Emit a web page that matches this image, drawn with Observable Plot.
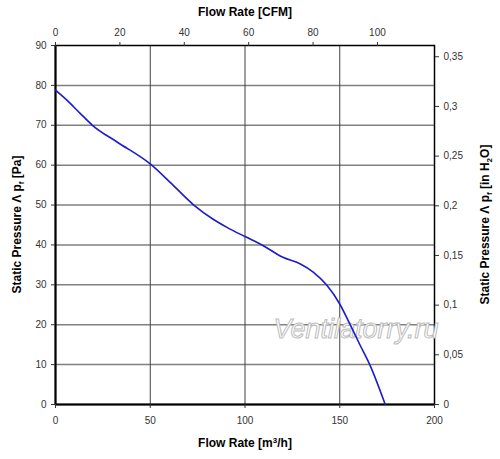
<!DOCTYPE html>
<html><head><meta charset="utf-8">
<script src="https://cdn.jsdelivr.net/npm/d3@7"></script>
<script src="https://cdn.jsdelivr.net/npm/@observablehq/plot@0.6"></script>
<style>body{margin:0;background:#fff}</style>
</head><body><div id="chart"></div>
<script>
// Fan curve values
const flowM3h   = [0, 6, 13, 19.5, 32.5, 50, 60.5, 73, 83, 90.5, 100, 109, 120, 129, 136, 143, 150, 155.5, 160.5, 166, 174];
const pressurePa = [78.8, 76.3, 73, 70, 65.8, 60.3, 55.7, 50, 46.5, 44.4, 42.1, 40, 36.9, 35.3, 33.2, 30, 25.2, 20, 15.1, 9.8, 0];

const xTicks = [0, 50, 100, 150, 200];
const yTicks = [0, 10, 20, 30, 40, 50, 60, 70, 80, 90];
const cfmTicks = [0, 20, 40, 60, 80, 100];
const inH2OTicks = [0, 0.05, 0.1, 0.15, 0.2, 0.25, 0.3, 0.35];
const gridY = [10, 20, 30, 40, 50, 60, 70, 80];
const gridX = [50, 100, 150];

const M3H_PER_CFM = 1.69901;
const PA_PER_INH2O = 249.089;

const data = flowM3h.map((f, i) => ({flow: f, p: pressurePa[i]}));

const plot = Plot.plot({
  width: 500,
  height: 459,
  marginLeft: 55,
  marginRight: 66,
  marginTop: 45,
  marginBottom: 55,
  style: {fontFamily: "'Liberation Sans', Arial, sans-serif", background: "#fff"},
  x: {domain: [0, 200]},
  y: {domain: [0, 90]},
  marks: [
    Plot.ruleY(gridY, {stroke: "#808080", strokeWidth: 1.5}),
    Plot.ruleX(gridX, {stroke: "#404040", strokeWidth: 1}),
    Plot.frame({stroke: "#000", strokeWidth: 1.5}),
    Plot.ruleX([0], {stroke: "#000", strokeWidth: 2}),
    Plot.ruleY([0], {stroke: "#000", strokeWidth: 2}),
    Plot.axisX(xTicks, {anchor: "bottom", label: null, tickSize: 4, tickPadding: 8, fontSize: 10, color: "#333"}),
    Plot.axisY(yTicks, {anchor: "left", label: null, tickSize: 4, tickPadding: 5, fontSize: 10, color: "#333"}),
    Plot.axisX(cfmTicks.map(c => c * M3H_PER_CFM), {
      anchor: "top", label: null, tickSize: 4, tickPadding: 6, fontSize: 10, color: "#333",
      tickFormat: d => String(Math.round(d / M3H_PER_CFM))
    }),
    Plot.axisY(inH2OTicks.map(v => v * PA_PER_INH2O), {
      anchor: "right", label: null, tickSize: 4, tickPadding: 5, fontSize: 10, color: "#333",
      tickFormat: d => String(Math.round(d / PA_PER_INH2O * 100) / 100).replace(".", ",")
    }),
    Plot.line(data, {x: "flow", y: "p", stroke: "#1c1cc8", strokeWidth: 1.6, curve: "monotone-x"})
  ]
});

document.getElementById("chart").appendChild(plot);

const svg = d3.select(plot);
const font = "'Liberation Sans', Arial, sans-serif";

// watermark (below curve)
svg.insert("text", "g[aria-label='line']")
  .attr("x", 356).attr("y", 338)
  .attr("text-anchor", "middle")
  .attr("font-family", font).attr("font-style", "italic")
  .attr("font-size", 27)
  .attr("fill", "#fff").attr("stroke", "#bdbdbd").attr("stroke-width", 1)
  .text("Ventilatorry.ru");

function title(x, y, rot) {
  return svg.append("text")
    .attr("font-family", font).attr("font-weight", "bold").attr("font-size", 12)
    .attr("fill", "#000").attr("text-anchor", "middle")
    .attr("transform", `translate(${x},${y})` + (rot ? ` rotate(${rot})` : ""));
}

title(245, 16).text("Flow Rate [CFM]");
const b = title(245, 447);
b.append("tspan").text("Flow Rate [m");
b.append("tspan").attr("font-size", 8).attr("dy", -4).text("3");
b.append("tspan").attr("dy", 4).text("/h]");

const l = title(21, 224.5, -90);
l.append("tspan").text("Static Pressure Λ p");
l.append("tspan").attr("font-size", 8).attr("dy", 3).text("f");
l.append("tspan").attr("dy", -3).text(" [Pa]");

const r = title(489, 224.5, -90);
r.append("tspan").text("Static Pressure Λ p");
r.append("tspan").attr("font-size", 8).attr("dy", 3).text("f");
r.append("tspan").attr("dy", -3).text(" [in H");
r.append("tspan").attr("font-size", 8).attr("dy", 3).text("2");
r.append("tspan").attr("dy", -3).text("O]");
</script>
</body></html>
